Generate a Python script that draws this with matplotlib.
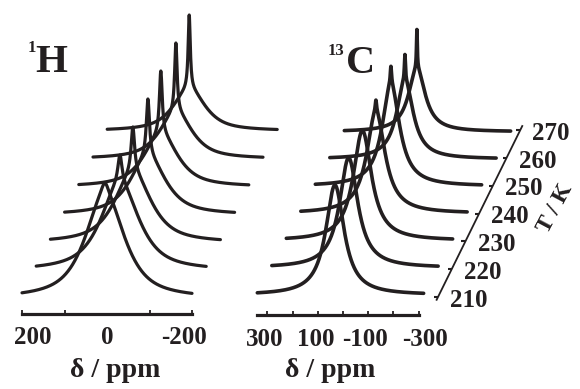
import numpy as np
import matplotlib.pyplot as plt

plt.rcParams['font.family'] = ['Liberation Serif', 'DejaVu Serif']
plt.rcParams['font.weight'] = 'bold'

temps = [210, 220, 230, 240, 250, 260, 270]

# 1H spectra: line position (ppm), share of the broad line, half widths (ppm)
h_shift = [5, 3, 6, 4, 7, 5, 7]
h_broad = [0.9, 0.75, 0.6, 0.5, 0.45, 0.4, 0.36]
h_broad_w = [55, 54, 52, 50, 48, 46, 45]
h_narrow_w = [10, 6, 5, 4.5, 4, 3.5, 3]

# 13C spectra
c_shift = [32, 35, 38, 42, 40, 42, 52]
c_height = [1.0, 1.0, 1.0, 1.03, 1.09, 0.95, 0.93]
c_broad = [1.0, 1.0, 1.0, 0.9, 0.85, 0.75, 0.62]
c_broad_w = [44, 44, 44, 44, 42, 40, 40]
c_narrow_w = [3, 3, 3, 3, 3, 2.5, 2]

# tick marks and where their labels sit (labels are pulled inside the axis span)
h_ticks = [200, 100, 0, -100, -200]
h_label_pos = [175, 0, -180]
h_labels = ['200', '0', '-200']
c_ticks = [300, 200, 100, 0, -100, -200, -300]
c_label_pos = [310, 107, -87, -325]
c_labels = ['300', '100', '-100', '-300']

INK = '#231f20'
W, H = 580, 389


def lorentz(x, x0, w):
    return 1.0 / (1.0 + ((x - x0) / w) ** 2)


def gauss(x, x0, w):
    return np.exp(-np.log(2) * ((x - x0) / w) ** 2)


fig = plt.figure(figsize=(W / 100, H / 100), dpi=100)


def make_axes(left, right, x0_px, px_per_ppm, base_px, unit_px):
    # axes spanning full height, x in ppm, y in spectrum height units
    ax = fig.add_axes([left / W, 0, (right - left) / W, 1])
    ax.set_xlim((x0_px - left) / px_per_ppm, (x0_px - right) / px_per_ppm)
    ax.set_ylim((base_px - H) / unit_px, base_px / unit_px)
    ax.patch.set_visible(False)
    for s in ['top', 'left', 'right']:
        ax.spines[s].set_visible(False)
    ax.set_yticks([])
    return ax


def style_axis(ax, ypos, lo, hi, ticks, label_pos, labels):
    sp = ax.spines['bottom']
    sp.set_position(('data', ypos))
    sp.set_bounds(lo, hi)
    sp.set_linewidth(2.3)
    sp.set_color(INK)
    ax.set_xticks(label_pos)
    ax.set_xticklabels(labels)
    ax.set_xticks(ticks, minor=True)
    ax.tick_params(axis='x', which='major', length=0, pad=9,
                   labelsize=18, labelcolor=INK)
    ax.tick_params(axis='x', which='minor', direction='in', length=3, width=1.3, color=INK)


ax1 = make_axes(0, 290, 107, 0.425, 299, 116)
ax2 = make_axes(240, 580, 343, 0.252, 295, 110)

# ---------------------------------
# 1H
# ---------------------------------
dppm1, dy1 = 14.2 / 0.425, 28 / 116
ppm1 = np.linspace(200, -200, 801)
for k, T in enumerate(temps):
    b = h_broad[k]
    broad = 0.8 * lorentz(ppm1, h_shift[k], h_broad_w[k]) + 0.2 * gauss(ppm1, h_shift[k], h_broad_w[k])
    spec = b * broad + (1 - b) * lorentz(ppm1, h_shift[k], h_narrow_w[k])
    ax1.plot(ppm1 - k * dppm1, spec + k * dy1, color=INK, lw=2.3,
             solid_capstyle='round', clip_on=False)

style_axis(ax1, (299 - 314) / 116, -200, 200, h_ticks, h_label_pos, h_labels)

# ---------------------------------
# 13C
# ---------------------------------
dppm2, dy2 = 14.5 / 0.252, 27.2 / 110
ppm2 = np.linspace(340, -320, 1321)
for k, T in enumerate(temps):
    b = c_broad[k]
    spec = b * lorentz(ppm2, c_shift[k], c_broad_w[k]) + (1 - b) * lorentz(ppm2, c_shift[k], c_narrow_w[k])
    ax2.plot(ppm2 - k * dppm2, c_height[k] * spec + k * dy2, color=INK, lw=2.6,
             solid_capstyle='round', clip_on=False)

style_axis(ax2, (295 - 315) / 110, -300, 340, c_ticks, c_label_pos, c_labels)

# temperature axis
tx0, ty0 = (343 - 438) / 0.252, (295 - 297) / 110
tdx, tdy = 13.7 / 0.252, 27.8 / 110
kk = np.array([(T - 210) / 10 for T in temps])
ax2.plot([tx0 + 0.1 * tdx, tx0 - 6.15 * tdx], [ty0 - 0.1 * tdy, ty0 + 6.15 * tdy],
         color=INK, lw=1.3, clip_on=False)
ax2.plot(tx0 - kk * tdx, ty0 + kk * tdy, ls='none', marker=0, ms=3, mew=1.5,
         color=INK, clip_on=False)
for k, T in zip(kk, temps):
    ax2.annotate(str(T), (tx0 - k * tdx, ty0 + k * tdy), xytext=(22.3, -2.2),
                 textcoords='offset points', ha='center', va='center',
                 fontsize=18, color=INK, annotation_clip=False)

fig.text(555 / W, 1 - 208 / H, 'T / K', rotation=62, ha='center', va='center',
         fontsize=17, color=INK)

# panel titles
fig.text(35 / W, 1 - 72 / H, 'H', fontsize=29.5, va='baseline', color=INK)
fig.text(28 / W, 1 - 52 / H, '1', fontsize=12, va='baseline', color=INK)
fig.text(346 / W, 1 - 73 / H, 'C', fontsize=29, va='baseline', color=INK)
fig.text(328 / W, 1 - 55 / H, '13', fontsize=12, va='baseline', color=INK)

# axis labels
fig.text(115 / W, 1 - 377 / H, 'δ / ppm', ha='center', va='baseline', fontsize=20, color=INK)
fig.text(330 / W, 1 - 377 / H, 'δ / ppm', ha='center', va='baseline', fontsize=20, color=INK)

fig.savefig('out.png', dpi=100)
